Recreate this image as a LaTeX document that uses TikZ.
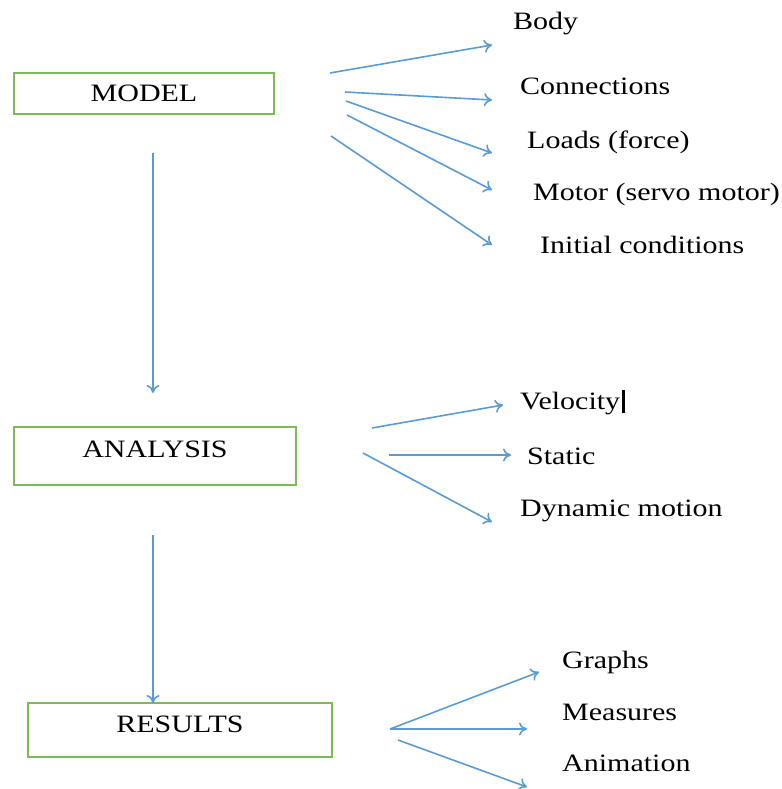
\documentclass[tikz,border=0pt]{standalone}
\usepackage{fontspec}
\setmainfont{Liberation Serif}[FakeStretch=1.2]
\usetikzlibrary{arrows.meta}
\definecolor{boxgreen}{RGB}{125,185,85}
\definecolor{flowblue}{RGB}{91,155,213}
\tikzset{
    stagebox/.style={draw=boxgreen, line width=2pt, rectangle, text height=17pt, font=\fontsize{25}{30}\selectfont},
    itemlabel/.style={anchor=base west, inner sep=0pt, font=\fontsize{25}{30}\selectfont},
    flow/.style={draw=flowblue, line width=1.6pt, -{To[length=8pt, width=13pt]}}
}
\begin{document}
\begin{tikzpicture}[x=1pt, y=-1pt]
        \useasboundingbox (0,0) rectangle (781,789);

        % The three stages on the left
        \node[stagebox, minimum width=260pt, minimum height=41pt, text depth=0pt] (model) at (144,93.5) {MODEL};
        \node[stagebox, minimum width=282pt, minimum height=58pt, text depth=15pt] (analysis) at (155,456) {ANALYSIS};
        \node[stagebox, minimum width=304pt, minimum height=54pt, text depth=13pt] (results) at (180,730) {RESULTS};

        % Items listed on the right of each stage
        \foreach \name/\x/\y/\txt in {body/513/30/Body, conn/520/95/Connections, loads/527/148/Loads (force),
                motor/533/200/Motor (servo motor), init/540/253/Initial conditions,
                velo/520/409/Velocity\hspace{2pt}\rule[-4pt]{2.5pt}{23pt}, static/527/464/Static, dyn/520/516/Dynamic motion,
                graphs/562/668/Graphs, meas/562/720/Measures, anim/562/771/Animation} {
            \node[itemlabel] (\name) at (\x,\y) {\txt};
        }

        % Arrows from each stage towards its items
        \foreach \name/\sx/\sy/\ex/\ey in {body/330/73/492/45, conn/345/92/492/100, loads/346/101/492/153,
                motor/347/115/492/190, init/331/136/492/245,
                velo/372/428/503/405, static/389/455/511/455, dyn/363/453/492/522,
                graphs/390/729/539/672, meas/390/729/527/729, anim/398/740/527/787} {
            \coordinate (\name-s) at (\sx,\sy);
            \coordinate (\name-e) at (\ex,\ey);
            \draw[flow] (\name-s) -- (\name-e);
        }

        % Arrows between the stages
        \foreach \i/\j/\sy/\ey in {model/analysis/153/393, analysis/results/535/703} {
            \coordinate (\i-down) at (153,\sy);
            \coordinate (\j-up) at (153,\ey);
            \draw[flow] (\i-down) -- (\j-up);
        }
    \end{tikzpicture}
\end{document}
